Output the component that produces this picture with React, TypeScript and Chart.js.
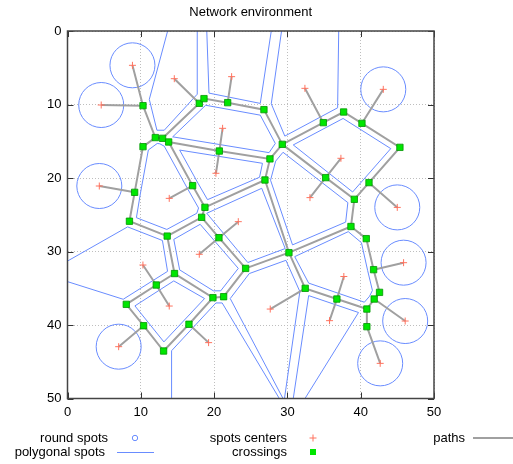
import React, { useEffect, useRef } from "react";
import { Chart, registerables } from "chart.js";

Chart.register(...registerables);

const TITLE = "Network environment";
const xTicks = [0, 10, 20, 30, 40, 50];
const yTicks = [0, 10, 20, 30, 40, 50];

// crossings (N1..N46)
const crossingX = [10.3, 11.98, 12.97, 13.8, 10.3, 17.98, 18.62, 21.85, 26.8, 29.3, 27.62, 20.71, 26.94, 17.07, 9.16, 8.45, 18.75, 18.3, 13.6, 20.66, 24.3, 14.6, 12.11, 8.02, 10.38, 13.11, 16.57, 19.84, 21.3, 30.21, 34.9, 37.67, 40.17, 45.35, 41.13, 39.13, 35.22, 38.67, 40.76, 41.76, 42.57, 41.84, 40.84, 40.84, 32.43, 36.75];
const crossingY = [10.16, 14.5, 14.6, 15.1, 15.74, 9.84, 9.2, 9.75, 10.7, 15.42, 17.4, 16.33, 20.27, 21.04, 21.95, 25.88, 23.99, 25.35, 27.9, 28.12, 32.3, 33.0, 34.56, 37.19, 40.1, 43.54, 39.9, 36.28, 36.15, 30.16, 12.47, 11.02, 12.56, 15.83, 20.63, 22.9, 19.95, 26.6, 28.25, 32.47, 35.56, 36.47, 37.83, 40.23, 35.01, 36.47];

// spot centers (first nine are the round spots)
const centerX = [8.86, 4.6, 4.34, 6.98, 43.08, 44.99, 45.85, 46.07, 42.66, 14.57, 22.39, 21.16, 20.25, 13.88, 32.39, 37.3, 33.08, 23.3, 17.98, 10.29, 13.88, 19.25, 37.7, 27.66, 35.75];
const centerY = [4.67, 10.07, 21.09, 42.95, 7.94, 24.0, 31.52, 39.46, 45.22, 6.49, 6.21, 13.24, 19.36, 22.77, 7.8, 17.32, 22.67, 25.94, 30.38, 31.84, 37.42, 42.4, 33.4, 37.83, 39.41];

// round spots radius (data units)
const roundR = [3.07, 3.07, 3.07, 3.07, 3.07, 3.07, 3.07, 3.07, 3.07];

// path chains, as crossing numbers (1-based)
const pathChains: number[][] = [
  [1, 2, 3, 4, 12, 11, 10, 9, 8, 7, 6, 3],
  [2, 5, 15, 16, 19, 18, 17, 14, 4],
  [17, 13, 11],
  [13, 30],
  [18, 20, 21, 30, 38, 36, 37, 10, 31, 32, 33, 34, 35, 36],
  [19, 22, 23, 24, 25, 26, 27, 28, 22],
  [28, 29, 21],
  [30, 45, 46, 43],
  [38, 39, 40, 41, 42, 43, 44],
];

// spokes: spot center index (0-based) -> crossing number (1-based)
const spokeCenter = [0, 1, 2, 3, 4, 5, 6, 7, 8, 9, 10, 11, 12, 13, 14, 15, 16, 17, 18, 19, 20, 21, 22, 23, 24];
const spokeCrossing = [1, 1, 15, 25, 33, 35, 40, 42, 44, 6, 8, 12, 12, 14, 31, 37, 37, 20, 20, 23, 23, 27, 46, 45, 46];

// polygonal spots
const polygons: [number, number][][] = [
  [[13.66, 0], [11.16, 9.3], [12.2, 13.5], [13.2, 13.5], [17.7, 8.6], [17.7, 0]],
  [[19.0, 0], [19.3, 8.45], [26.3, 9.85], [27.8, 0]],
  [[29.2, 0], [27.8, 9.9], [29.65, 14.3], [36.85, 10.45], [37.0, 0]],
  [[14.35, 14.4], [18.85, 10.1], [26.3, 11.45], [28.35, 15.3], [27.5, 16.55]],
  [[15.3, 16.2], [26.6, 18.0], [26.2, 19.9], [19.1, 22.95], [17.8, 20.7]],
  [[11.03, 16.19], [12.24, 15.3], [12.6, 15.35], [13.2, 15.67], [16.37, 21.44], [17.88, 24.08], [17.64, 24.8], [13.55, 27.0], [9.4, 25.4], [9.95, 22.08]],
  [[30.8, 15.5], [37.6, 11.9], [44.1, 16.0], [38.9, 21.9]],
  [[29.4, 16.5], [38.25, 23.35], [37.95, 26.0], [30.7, 29.1], [27.7, 20.3], [28.4, 17.7]],
  [[19.0, 24.8], [26.5, 21.4], [29.7, 29.6], [24.6, 31.5]],
  [[18.1, 26.3], [23.3, 32.3], [20.9, 35.35], [19.9, 35.35], [15.3, 32.5], [14.5, 28.35]],
  [[0, 31.3], [8.2, 26.65], [12.95, 28.5], [13.65, 32.7], [7.6, 36.5], [0, 34.1]],
  [[9.2, 37.4], [14.5, 34.0], [18.7, 36.4], [13.15, 42.3]],
  [[14.2, 50], [14.2, 43.5], [20.25, 37.0], [21.1, 37.0], [28.9, 50]],
  [[31.0, 30.7], [38.3, 27.3], [40.1, 28.8], [40.95, 32.6], [41.6, 35.3], [41.2, 36.1], [40.5, 36.9], [32.9, 34.3]],
  [[29.4, 50], [22.2, 36.4], [24.8, 33.0], [29.8, 31.2], [31.7, 35.45], [29.6, 50]],
  [[30.8, 50], [32.9, 36.0], [39.7, 38.3], [32.4, 50]],
];
const polygonClosed = [false, false, false, true, true, true, true, true, true, true, false, true, false, true, false, false];

const FONT = '"Liberation Sans", Arial, Helvetica, sans-serif';
const BLUE = "rgb(105,140,255)";
const GRAY = "rgb(160,160,160)";
const RED = "rgb(255,115,95)";
const GREEN = "rgb(0,230,0)";
const GREEN_EDGE = "rgb(0,150,0)";

type P = { x: number; y: number | null };

function buildPolygonData(): P[] {
  const out: P[] = [];
  polygons.forEach((poly, i) => {
    poly.forEach(([x, y]) => out.push({ x, y }));
    if (polygonClosed[i]) out.push({ x: poly[0][0], y: poly[0][1] });
    out.push({ x: poly[poly.length - 1][0], y: null });
  });
  return out;
}

function buildPathData(): P[] {
  const out: P[] = [];
  pathChains.forEach((chain) => {
    chain.forEach((n) => out.push({ x: crossingX[n - 1], y: crossingY[n - 1] }));
    out.push({ x: crossingX[chain[chain.length - 1] - 1], y: null });
  });
  spokeCenter.forEach((c, i) => {
    const n = spokeCrossing[i] - 1;
    out.push({ x: centerX[c], y: centerY[c] });
    out.push({ x: crossingX[n], y: crossingY[n] });
    out.push({ x: crossingX[n], y: null });
  });
  return out;
}

const framePlugin = {
  id: "frameAndKey",
  afterDraw(chart: any) {
    const { ctx, chartArea: a, scales } = chart;
    const xs = scales.x;
    const ys = scales.y;
    ctx.save();
    // ticks (inward, mirrored)
    ctx.strokeStyle = "#333";
    ctx.lineWidth = 1;
    const tl = 6;
    ctx.beginPath();
    xTicks.forEach((v) => {
      const px = Math.round(xs.getPixelForValue(v)) + 0.5;
      ctx.moveTo(px, a.bottom);
      ctx.lineTo(px, a.bottom - tl);
      ctx.moveTo(px, a.top);
      ctx.lineTo(px, a.top + tl);
    });
    yTicks.forEach((v) => {
      const py = Math.round(ys.getPixelForValue(v)) + 0.5;
      ctx.moveTo(a.left, py);
      ctx.lineTo(a.left + tl, py);
      ctx.moveTo(a.right, py);
      ctx.lineTo(a.right - tl, py);
    });
    ctx.stroke();
    // frame
    ctx.strokeStyle = "#444";
    ctx.lineWidth = 1.5;
    ctx.strokeRect(a.left, a.top, a.right - a.left, a.bottom - a.top);

    // key
    ctx.font = `13px ${FONT}`;
    ctx.fillStyle = "#000";
    ctx.textAlign = "right";
    ctx.textBaseline = "middle";
    const r1 = 438;
    const r2 = 452;
    ctx.fillText("round spots", 108, r1);
    ctx.fillText("polygonal spots", 105, r2);
    ctx.fillText("spots centers", 287, r1);
    ctx.fillText("crossings", 287, r2);
    ctx.fillText("paths", 465, r1);

    ctx.strokeStyle = BLUE;
    ctx.lineWidth = 1;
    ctx.beginPath();
    ctx.arc(135, r1, 2.7, 0, Math.PI * 2);
    ctx.stroke();
    ctx.beginPath();
    ctx.moveTo(117, r2 + 0.5);
    ctx.lineTo(154, r2 + 0.5);
    ctx.stroke();

    ctx.strokeStyle = RED;
    ctx.beginPath();
    ctx.moveTo(309.5, r1);
    ctx.lineTo(316.5, r1);
    ctx.moveTo(313, r1 - 3.5);
    ctx.lineTo(313, r1 + 3.5);
    ctx.stroke();

    ctx.fillStyle = GREEN;
    ctx.fillRect(310, r2 - 3, 6, 6);

    ctx.strokeStyle = GRAY;
    ctx.lineWidth = 2;
    ctx.beginPath();
    ctx.moveTo(473, r1);
    ctx.lineTo(513, r1);
    ctx.stroke();
    ctx.restore();
  },
};

export default function App() {
  const ref = useRef<HTMLCanvasElement | null>(null);
  useEffect(() => {
    if (!ref.current) return;
    const crossings = crossingX.map((x, i) => ({ x, y: crossingY[i] }));
    const centers = centerX.map((x, i) => ({ x, y: centerY[i] }));
    const rounds = roundR.map((_, i) => ({ x: centerX[i], y: centerY[i] }));
    const chart = new Chart(ref.current, {
      type: "scatter",
      data: {
        datasets: [
          {
            label: "crossings",
            data: crossings,
            pointStyle: "rect",
            pointRadius: 4.5,
            backgroundColor: GREEN,
            borderColor: GREEN_EDGE,
            borderWidth: 0.8,
          },
          {
            label: "spots centers",
            data: centers,
            pointStyle: "cross",
            pointRadius: 3.5,
            borderColor: RED,
            borderWidth: 1,
          },
          {
            label: "paths",
            data: buildPathData() as any,
            showLine: true,
            pointRadius: 0,
            borderColor: GRAY,
            borderWidth: 2,
            spanGaps: false,
          },
          {
            label: "polygonal spots",
            data: buildPolygonData() as any,
            showLine: true,
            pointRadius: 0,
            borderColor: BLUE,
            borderWidth: 1,
            spanGaps: false,
          },
          {
            label: "round spots",
            data: rounds,
            pointStyle: "circle",
            backgroundColor: "rgba(0,0,0,0)",
            borderColor: BLUE,
            borderWidth: 1,
            pointRadius: (c: any) => {
              const s = c.chart && c.chart.scales ? c.chart.scales.x : null;
              const r = roundR[c.dataIndex];
              if (!s || r === undefined) return 0;
              return Math.abs(s.getPixelForValue(r) - s.getPixelForValue(0));
            },
          } as any,
        ],
      },
      options: {
        animation: false,
        responsive: false,
        devicePixelRatio: 1,
        events: [],
        layout: { padding: { left: 0, right: 79, top: 0, bottom: 45.5 } },
        plugins: {
          legend: { display: false },
          tooltip: { enabled: false },
          title: {
            display: true,
            text: TITLE,
            color: "#000",
            fullSize: false,
            font: { size: 13, family: FONT, weight: "normal" },
            padding: { top: 5, bottom: 10.4 },
          },
        },
        scales: {
          x: {
            type: "linear",
            position: "bottom",
            min: 0,
            max: 50,
            afterFit: (s: any) => {
              s.height = 20;
            },
            ticks: { stepSize: 10, color: "#000", font: { size: 13, family: FONT }, padding: 6, maxRotation: 0 },
            grid: { color: "rgb(190,190,190)", lineWidth: 1, drawTicks: false },
            border: { display: false, dash: [1, 2] },
          },
          y: {
            type: "linear",
            position: "left",
            reverse: true,
            min: 0,
            max: 50,
            afterFit: (s: any) => {
              s.width = 67.5;
            },
            ticks: { stepSize: 10, color: "#000", font: { size: 13, family: FONT }, padding: 6 },
            grid: { color: "rgb(190,190,190)", lineWidth: 1, drawTicks: false },
            border: { display: false, dash: [1, 2] },
          },
        },
      } as any,
      plugins: [framePlugin],
    });
    return () => chart.destroy();
  }, []);
  return (
    <div style={{ position: "fixed", left: 0, top: 0, width: 513, height: 464, background: "#fff" }}>
      <canvas ref={ref} width={513} height={464} style={{ display: "block" }} />
    </div>
  );
}
